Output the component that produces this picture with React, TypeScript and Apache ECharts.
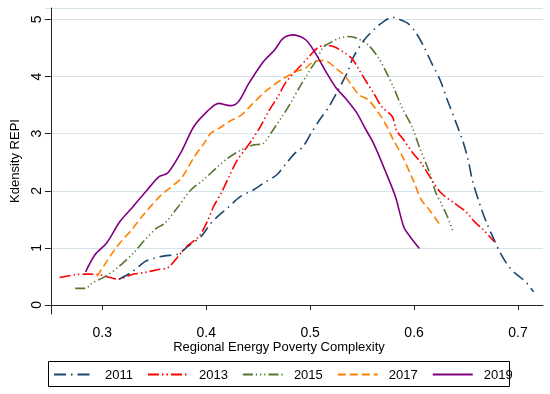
import React, { useEffect, useRef } from "react";
import * as echarts from "echarts";

const years = ["2011", "2013", "2015", "2017", "2019"];
const colors = ["#1a476f", "#ff0000", "#55752f", "#ff8000", "#800080"];
const dashes: number[][] = [[12, 5, 1.5, 5], [11, 3, 1.5, 3, 1.5, 3], [10, 3, 1.2, 3, 1.2, 3, 1.2, 3], [8, 4], []];

const x2011 = [0.316,0.328,0.341,0.350,0.360,0.373,0.382,0.395,0.404,0.411,0.420,0.433,0.445,0.455,0.468,0.477,0.485,0.493,0.501,0.509,0.518,0.528,0.536,0.541,0.552,0.563,0.572,0.579,0.586,0.594,0.602,0.610,0.617,0.625,0.632,0.640,0.647,0.652,0.656,0.664,0.670,0.677,0.683,0.690,0.697,0.707,0.715];
const y2011 = [0.45,0.57,0.76,0.82,0.86,0.89,1.02,1.20,1.42,1.55,1.69,1.90,2.01,2.13,2.28,2.48,2.65,2.77,3.01,3.24,3.47,3.80,4.08,4.32,4.64,4.85,4.98,5.04,5.00,4.93,4.76,4.50,4.23,3.94,3.59,3.21,2.86,2.54,2.19,1.72,1.43,1.14,0.91,0.70,0.56,0.41,0.23];

const x2013 = [0.259,0.274,0.284,0.297,0.304,0.316,0.328,0.341,0.354,0.363,0.373,0.381,0.393,0.401,0.407,0.415,0.422,0.430,0.437,0.444,0.452,0.461,0.469,0.476,0.484,0.490,0.499,0.507,0.515,0.523,0.531,0.540,0.547,0.553,0.561,0.569,0.579,0.583,0.590,0.598,0.607,0.617,0.626,0.639,0.650,0.658,0.667,0.677];
const y2013 = [0.48,0.53,0.54,0.53,0.50,0.45,0.53,0.57,0.62,0.65,0.85,1.02,1.20,1.46,1.72,1.98,2.25,2.54,2.71,2.89,3.12,3.42,3.65,3.88,4.06,4.17,4.35,4.50,4.55,4.52,4.44,4.32,4.12,3.94,3.71,3.47,3.30,3.06,2.89,2.68,2.48,2.19,1.96,1.78,1.63,1.46,1.31,1.11];

const x2015 = [0.274,0.284,0.290,0.303,0.316,0.330,0.341,0.352,0.360,0.373,0.385,0.398,0.411,0.420,0.433,0.445,0.455,0.463,0.472,0.480,0.490,0.498,0.506,0.512,0.518,0.528,0.537,0.545,0.556,0.566,0.572,0.580,0.588,0.598,0.605,0.615,0.621,0.626,0.632,0.637];
const y2015 = [0.29,0.29,0.38,0.50,0.67,0.91,1.14,1.34,1.43,1.72,2.01,2.20,2.42,2.56,2.71,2.80,2.83,3.03,3.27,3.50,3.82,4.06,4.29,4.50,4.58,4.67,4.70,4.67,4.55,4.32,4.12,3.82,3.47,3.12,2.77,2.31,1.96,1.78,1.55,1.31];

const x2017 = [0.295,0.314,0.328,0.341,0.357,0.376,0.388,0.398,0.404,0.412,0.422,0.434,0.445,0.457,0.472,0.487,0.495,0.501,0.510,0.517,0.525,0.533,0.541,0.547,0.556,0.566,0.574,0.580,0.588,0.599,0.607,0.615,0.626];
const y2017 = [0.50,1.02,1.31,1.61,1.93,2.22,2.58,2.83,3.00,3.09,3.21,3.33,3.53,3.74,3.94,4.09,4.14,4.23,4.28,4.26,4.14,4.02,3.82,3.68,3.59,3.36,3.12,2.89,2.63,2.19,1.84,1.66,1.37];

const x2019 = [0.284,0.293,0.304,0.317,0.330,0.343,0.355,0.363,0.376,0.388,0.401,0.412,0.423,0.431,0.441,0.455,0.466,0.474,0.484,0.496,0.506,0.515,0.525,0.534,0.545,0.553,0.561,0.572,0.582,0.590,0.596,0.605];
const y2019 = [0.58,0.88,1.08,1.46,1.73,2.01,2.25,2.31,2.68,3.12,3.39,3.53,3.49,3.56,3.88,4.26,4.47,4.67,4.73,4.64,4.38,4.09,3.80,3.62,3.36,3.09,2.83,2.36,1.90,1.37,1.20,0.99];

const xs = [x2011, x2013, x2015, x2017, x2019];
const ys = [y2011, y2013, y2015, y2017, y2019];

const xTicks = [0.3, 0.4, 0.5, 0.6, 0.7];
const yTicks = [0, 1, 2, 3, 4, 5];
const X_MIN = 0.2506;
const X_MAX = 0.724;
const Y_MIN = -0.158;
const Y_MAX = 5.2;

const FONT = "'Liberation Sans', Arial, sans-serif";

export default function App() {
  const ref = useRef<HTMLDivElement>(null);
  useEffect(() => {
    if (!ref.current) return;
    const chart = echarts.init(ref.current, undefined, { renderer: "svg" });
    const series: any[] = years.map((yr, i) => ({
      type: "line",
      name: yr,
      xAxisIndex: 0,
      yAxisIndex: 0,
      data: xs[i].map((x, j) => [x, ys[i][j]]),
      symbol: "none",
      showSymbol: false,
      smooth: 0.3,
      z: 2 + i,
      lineStyle: {
        color: colors[i],
        width: 1.6,
        type: dashes[i].length ? dashes[i] : "solid",
      },
      itemStyle: { color: colors[i] },
    }));
    // plot grid: 306px tall for Y_MIN..Y_MAX; grid for gridlines spans 0..Y_MAX exactly
    const plotTop = 8;
    const plotBottom = 80;
    const plotH = 394 - plotTop - plotBottom;
    const zeroPx = 394 - plotBottom - ((0 - Y_MIN) / (Y_MAX - Y_MIN)) * plotH;
    chart.setOption({
      animation: false,
      textStyle: { fontFamily: FONT },
      grid: [
        { left: 45, right: 7, top: plotTop, bottom: plotBottom, z: 2 },
        { left: 45, right: 7, top: plotTop, bottom: 394 - zeroPx, z: 0 },
      ],
      xAxis: [
        {
          type: "value",
          gridIndex: 0,
          min: X_MIN,
          max: X_MAX,
          axisLine: { show: true, lineStyle: { color: "#222", width: 1 } },
          axisTick: { show: true, customValues: xTicks, length: 5, lineStyle: { color: "#222" } },
          axisLabel: {
            customValues: xTicks,
            formatter: (v: number) => v.toFixed(1),
            fontSize: 14,
            color: "#000",
            margin: 11,
            fontFamily: FONT,
          },
          splitLine: { show: false },
        },
        {
          type: "value",
          gridIndex: 1,
          min: X_MIN,
          max: X_MAX,
          show: false,
        },
      ],
      yAxis: [
        {
          type: "value",
          gridIndex: 0,
          min: Y_MIN,
          max: Y_MAX,
          name: "Kdensity REPI",
          nameLocation: "middle",
          nameRotate: 90,
          nameGap: 26,
          nameTextStyle: { fontSize: 13, color: "#000", fontFamily: FONT },
          axisLine: { show: true, lineStyle: { color: "#222", width: 1 } },
          axisTick: { show: true, customValues: yTicks, length: 6, lineStyle: { color: "#222" } },
          axisLabel: {
            customValues: yTicks,
            formatter: (v: number) => String(Math.round(v)),
            rotate: 90,
            fontSize: 14,
            color: "#000",
            margin: 8,
            fontFamily: FONT,
          },
          splitLine: { show: false },
        },
        {
          type: "value",
          gridIndex: 1,
          min: 0,
          max: Y_MAX,
          interval: 1,
          axisLine: { show: false },
          axisTick: { show: false },
          axisLabel: { show: false },
          splitLine: { show: true, lineStyle: { color: "#d6e3ea", width: 1, type: "solid" } },
        },
      ],
      legend: {
        data: years.map((y) => ({ name: y })),
        left: 53,
        top: 368,
        padding: 0,
        itemWidth: 40,
        itemHeight: 14,
        itemGap: 14,
        itemStyle: { opacity: 0 },
        textStyle: { fontSize: 13, color: "#000", fontFamily: FONT, padding: [0, 0, 0, 6] },
      },
      graphic: [
        {
          type: "rect",
          shape: { x: 48.5, y: 361.5, width: 461, height: 25 },
          style: { fill: "none", stroke: "#000", lineWidth: 1 },
          silent: true,
        },
        {
          type: "text",
          x: 279,
          y: 346,
          style: {
            text: "Regional Energy Poverty Complexity",
            fontSize: 13,
            fill: "#000",
            fontFamily: FONT,
            align: "center",
            verticalAlign: "middle",
          },
          silent: true,
        },
      ],
      series,
    });
    return () => chart.dispose();
  }, []);
  return <div ref={ref} style={{ position: "fixed", left: 0, top: 0, width: 550, height: 394 }} />;
}
